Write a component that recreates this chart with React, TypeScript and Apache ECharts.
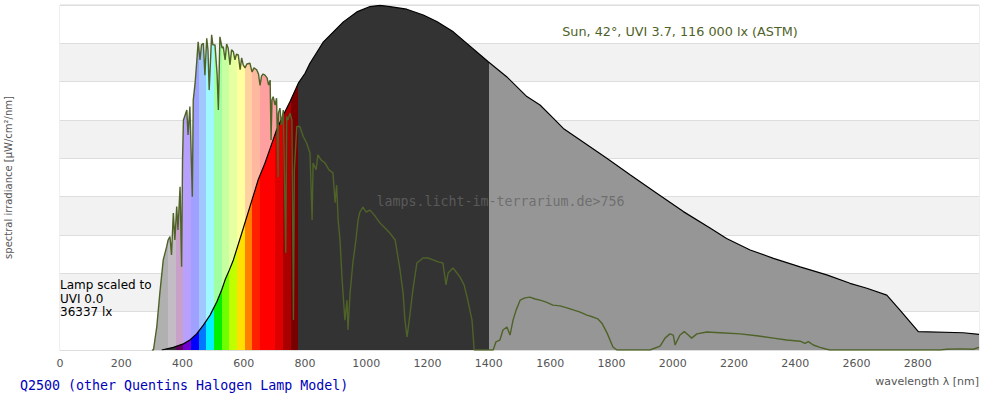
import React, { useEffect, useRef } from 'react';
import * as echarts from 'echarts';

// wavelength [nm], spectral irradiance (relative units of the plot)
const sunSpectrum: [number, number][] = [
  [300, 0], [305, 0], [316, 0.61], [326, 1.49], [337, 2.35], [348, 2.69], [353, 2.87], [359, 2.96], [364, 2.48],
  [370, 3.57], [375, 2.87], [381, 3.74], [385, 3.13], [392, 4.26], [397, 2.17], [400, 4.96], [403, 6.0], [414, 6.26],
  [418, 5.61], [424, 6.35], [432, 4.0], [435, 6.52], [441, 6.96], [446, 7.48], [451, 8.04], [457, 7.57], [462, 7.96],
  [468, 8.0], [473, 7.17], [479, 8.13], [483, 7.83], [487, 6.78], [495, 8.22], [499, 7.96], [506, 7.96], [513, 7.17],
  [517, 6.26], [522, 8.17], [529, 7.88], [533, 7.91], [539, 7.57], [544, 7.98], [549, 7.87], [555, 7.44], [560, 7.83],
  [566, 7.78], [571, 7.57], [576, 7.72], [582, 7.7], [588, 7.31], [593, 7.62], [598, 7.44], [604, 7.36], [610, 7.46],
  [620, 7.48], [627, 7.25], [633, 7.36], [642, 7.31], [648, 7.2], [653, 6.9], [658, 7.15], [663, 7.2], [669, 7.17],
  [676, 7.1], [681, 6.91], [686, 7.04], [689, 5.48], [692, 6.52], [696, 6.61], [702, 6.39], [707, 6.57], [712, 4.51],
  [713, 6.18], [718, 6.31], [723, 5.87], [729, 6.26], [737, 2.53], [740, 6.09], [744, 6.0], [751, 6.18], [757, 6.0],
  [762, 0.78], [765, 4.7], [773, 5.83], [783, 5.83], [794, 5.57], [805, 5.4], [816, 5.14], [823, 3.39], [826, 4.88],
  [836, 4.7], [842, 5.09], [852, 4.96], [865, 4.88], [878, 4.7], [891, 4.62], [898, 3.84], [903, 4.3], [908, 3.39],
  [914, 2.87], [921, 1.83], [930, 0.78], [937, 1.3], [940, 0.52], [947, 1.49], [956, 2.27], [966, 2.87], [973, 3.39],
  [979, 3.6], [989, 3.73], [999, 3.6], [1012, 3.65], [1028, 3.5], [1045, 3.31], [1061, 3.18], [1077, 3.05], [1094, 2.87],
  [1110, 2.09], [1120, 1.49], [1126, 0.78], [1133, 0.34], [1143, 0.97], [1152, 1.57], [1165, 2.27], [1185, 2.4],
  [1201, 2.4], [1218, 2.35], [1234, 2.3], [1250, 2.27], [1260, 1.7], [1267, 2.01], [1283, 2.14], [1306, 1.9],
  [1319, 1.7], [1329, 1.38], [1338, 1.04], [1345, 0.78], [1352, 0], [1414, 0], [1423, 0.21], [1436, 0.26], [1446, 0.52],
  [1459, 0.6], [1469, 0.39], [1479, 0.78], [1489, 1.04], [1502, 1.3], [1518, 1.36], [1534, 1.38], [1551, 1.33],
  [1567, 1.3], [1587, 1.25], [1609, 1.17], [1632, 1.15], [1655, 1.1], [1678, 1.04], [1698, 0.99], [1720, 0.91],
  [1740, 0.86], [1756, 0.81], [1769, 0.7], [1786, 0.44], [1805, 0.08], [1818, 0], [1926, 0], [1959, 0.1], [1975, 0.31],
  [1991, 0.42], [2002, 0.39], [2008, 0.13], [2013, 0.22], [2024, 0.39], [2038, 0.48], [2051, 0.39], [2062, 0.31],
  [2079, 0.42], [2111, 0.47], [2155, 0.45], [2220, 0.42], [2274, 0.37], [2329, 0.31], [2372, 0.26], [2416, 0.23],
  [2432, 0.17], [2443, 0.22], [2459, 0.13], [2481, 0.07], [2503, 0.02], [2514, 0], [2873, 0], [2895, 0.02],
  [2938, 0.03], [2981, 0.02], [3000, 0.07],
];

const lampSpectrum: [number, number][] = [
  [332, 0], [370, 0.07], [403, 0.16], [424, 0.26], [446, 0.42], [468, 0.65], [490, 0.91], [512, 1.26], [528, 1.57],
  [539, 1.83], [553, 2.09], [566, 2.35], [593, 3.04], [620, 3.74], [647, 4.44], [669, 4.87], [686, 5.26], [707, 5.74],
  [729, 6.13], [751, 6.48], [778, 6.96], [800, 7.22], [816, 7.48], [860, 8.04], [925, 8.56], [969, 8.82], [1012, 8.96],
  [1045, 8.99], [1077, 8.96], [1132, 8.89], [1186, 8.74], [1230, 8.57], [1284, 8.3], [1328, 8.0], [1398, 7.52],
  [1458, 7.13], [1524, 6.61], [1567, 6.39], [1610, 6.05], [1643, 5.78], [1698, 5.48], [1785, 5.0], [1861, 4.57],
  [1948, 4.09], [2035, 3.61], [2122, 3.18], [2176, 2.91], [2253, 2.61], [2329, 2.39], [2416, 2.17], [2503, 1.96],
  [2579, 1.74], [2634, 1.61], [2699, 1.43], [2742, 1.04], [2802, 0.48], [2949, 0.45], [3000, 0.41],
];

// colour bands of the visible range
const bandEdges = [378, 403, 428, 453, 478, 503, 528, 553, 578, 603, 628, 653, 678, 703, 728, 753, 778];
const lampBandColors = [
  '#600060', '#7000d0', '#0000ff', '#0078ff', '#00f0ff', '#00f000', '#70ff00', '#c0ff00',
  '#ffe000', '#ff8000', '#ff2000', '#ff0000', '#ff0000', '#dd0000', '#aa0000', '#780000',
];
const sunBandColors = [
  '#c8a0c8', '#b8a0ff', '#a0a0ff', '#a0c8ff', '#a0f8ff', '#a0ffa0', '#c8ffa0', '#e6ffa0',
  '#ffffa0', '#ffd0a0', '#ffb8a0', '#ffa0a0', '#ffa0a0', '#f0a0a0', '#e0a0a0', '#d0a0a0',
];
const uvEdges = [0, 353, 378];
const sunUvColors = ['#b0b0b0', '#c4bcc4'];
const irEdges = [778, 1400, 3000];
const lampIrColors = ['#333333', '#969696'];

const lampNoteLines = ['Lamp scaled to', 'UVI 0.0', '36337 lx'];

const xMin = 0;
const xMax = 3000;
const xStep = 200;
const yMax = 9;

const buildPieces = (uvColors: string[], bandColors: string[], irColors: string[]) => {
  const pieces: any[] = [];
  for (let i = 0; i < uvEdges.length - 1; i++) pieces.push({ min: uvEdges[i], max: uvEdges[i + 1], color: uvColors[i] });
  for (let i = 0; i < bandEdges.length - 1; i++) pieces.push({ min: bandEdges[i], max: bandEdges[i + 1], color: bandColors[i] });
  for (let i = 0; i < irEdges.length - 1; i++) pieces.push({ min: irEdges[i], max: irEdges[i + 1], color: irColors[i] });
  return pieces;
};

const SANS = 'DejaVu Sans';
const MONO = 'DejaVu Sans Mono';

export default function App() {
  const ref = useRef<HTMLDivElement>(null);
  useEffect(() => {
    if (!ref.current) return;
    const chart = echarts.init(ref.current, undefined, { renderer: 'svg' });
    chart.setOption({
      animation: false,
      backgroundColor: '#ffffff',
      grid: {
        left: 60, right: 21, top: 5, bottom: 50, show: true, borderColor: '#dddddd', borderWidth: 1,
        containLabel: false, outerBoundsMode: 'none',
      },
      xAxis: {
        type: 'value', min: xMin, max: xMax, interval: xStep,
        axisLine: { show: true, lineStyle: { color: '#dddddd' } },
        axisTick: { show: false },
        splitLine: { show: false },
        axisLabel: {
          color: '#555555', fontSize: 11, fontFamily: SANS, margin: 8, showMaxLabel: false,
          formatter: (v: number) => String(v),
        },
      },
      yAxis: {
        type: 'value', min: 0, max: yMax, interval: 1,
        name: 'spectral irradiance [µW/cm²/nm]', nameLocation: 'middle', nameGap: 47,
        nameTextStyle: { color: '#555555', fontSize: 10, fontFamily: SANS },
        axisLine: { show: false }, axisTick: { show: false }, axisLabel: { show: false },
        splitLine: { show: true, lineStyle: { color: '#dddddd' } },
        splitArea: { show: true, areaStyle: { color: ['#ffffff', '#f2f2f2'] } },
      },
      visualMap: [
        { type: 'piecewise', show: false, dimension: 0, seriesIndex: 0, pieces: buildPieces(sunUvColors, sunBandColors, ['#999999', '#999999']) },
        { type: 'piecewise', show: false, dimension: 0, seriesIndex: 1, pieces: buildPieces(['#333333', '#333333'], lampBandColors, lampIrColors) },
      ],
      series: [
        { type: 'line', data: sunSpectrum, showSymbol: false, silent: true, lineStyle: { width: 0, opacity: 0 }, areaStyle: { opacity: 1 }, z: 1 },
        { type: 'line', data: lampSpectrum, showSymbol: false, silent: true, lineStyle: { width: 0, opacity: 0 }, areaStyle: { opacity: 1 }, z: 2 },
        { type: 'line', data: lampSpectrum, showSymbol: false, silent: true, lineStyle: { width: 1.2, color: '#000000' }, z: 3 },
        { type: 'line', data: sunSpectrum, showSymbol: false, silent: true, lineStyle: { width: 1.4, color: '#4f6228' }, z: 4 },
      ],
      graphic: [
        { type: 'text', x: 680, y: 31, z: 100, silent: true,
          style: { text: 'Sun, 42°, UVI 3.7, 116 000 lx (ASTM)', fill: '#4f6228', font: `12.8px "${SANS}"`, textAlign: 'center', textVerticalAlign: 'middle' } },
        ...lampNoteLines.map((line, i) => ({
          type: 'text', x: 60, y: 285.3 + i * 13.4, z: 100, silent: true,
          style: { text: line, fill: '#000000', font: `12px "${SANS}"`, textAlign: 'left', textVerticalAlign: 'middle' },
        })),
        { type: 'text', x: 500.5, y: 201, z: 100, silent: true,
          style: { text: 'lamps.licht-im-terrarium.de>756', fill: 'rgba(100,100,100,0.8)', font: `13.3px "${MONO}"`, textAlign: 'center', textVerticalAlign: 'middle' } },
        { type: 'text', x: 20, y: 385, z: 100, silent: true,
          style: { text: 'Q2500 (other Quentins Halogen Lamp Model)', fill: '#0000bb', font: `13.3px "${MONO}"`, textAlign: 'left', textVerticalAlign: 'middle' } },
        { type: 'text', x: 979, y: 381, z: 100, silent: true,
          style: { text: 'wavelength λ [nm]', fill: '#555555', font: `11px "${SANS}"`, textAlign: 'right', textVerticalAlign: 'middle' } },
      ],
    });
    return () => chart.dispose();
  }, []);
  return <div ref={ref} style={{ position: 'absolute', left: 0, top: 0, width: 1000, height: 400 }} />;
}
